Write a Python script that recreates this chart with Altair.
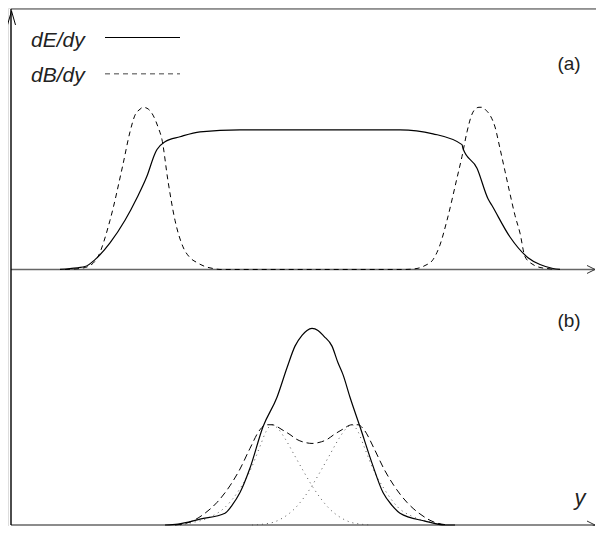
import altair as alt
import pandas as pd

# ---- panel (a): heights above the panel-(a) baseline ----
a_E_x = [60, 70, 85, 95, 110, 125, 137, 147, 155, 157, 165, 180, 200, 240, 300, 360, 400,
         433, 462, 463, 477, 488, 492, 510, 528, 540, 553, 560]
a_E_h = [0, 1, 3, 10, 27, 50, 73, 95, 118, 122, 130, 135, 140, 142, 142, 142, 142,
         138, 127, 123, 103, 72, 65, 33, 12, 5, 1, 0]

a_B_x = [65, 80, 90, 98, 110, 123, 130, 135, 140, 143, 147, 153, 158, 162, 168, 175, 183, 190,
         197, 205, 213, 220, 300, 405, 417, 425, 433, 440, 447, 457, 462, 467, 472, 475, 479,
         482, 486, 490, 495, 500, 505, 510, 515, 520, 525, 533, 540, 547, 555]
a_B_h = [0, 1, 4, 13, 50, 107, 140, 157, 163, 165, 164, 157, 145, 132, 90, 50, 23, 12,
         7, 3, 1, 0, 0, 0, 1, 4, 10, 25, 50, 93, 115, 140, 158, 163, 165,
         165, 162, 157, 145, 123, 100, 77, 55, 37, 13, 5, 2, 1, 0]

# ---- panel (b): heights above the bottom axis ----
b_E_x = [165, 178, 200, 225, 232, 240, 250, 263, 277, 287, 295, 302, 307, 312, 318, 324,
         332, 338, 343, 350, 360, 372, 383, 392, 400, 425, 445, 455]
b_E_h = [0, 1, 6, 12, 20, 33, 58, 100, 130, 160, 182, 193, 198, 200, 198, 192,
         182, 165, 153, 130, 100, 63, 33, 20, 12, 4, 0, 0]

b_B_x = [175, 190, 205, 217, 230, 240, 250, 260, 266, 272, 282, 290, 297, 305, 312, 319,
         327, 334, 342, 352, 358, 364, 374, 384, 394, 407, 419, 434, 449]
b_B_h = [0, 3, 12, 23, 40, 57, 78, 97, 102, 102, 97, 92, 87, 84, 83, 84,
         87, 92, 97, 102, 102, 97, 78, 57, 40, 23, 12, 3, 0]

b_L_x = [180, 190, 210, 225, 240, 250, 260, 266, 272, 278, 285, 295, 305, 312, 320, 330,
         340, 350, 360, 372]
b_L_h = [0, 2, 8, 18, 37, 55, 80, 95, 102, 98, 88, 70, 52, 40, 28, 16,
         8, 3, 1, 0]

b_R_x = [252, 264, 274, 284, 294, 304, 312, 319, 329, 339, 346, 352, 358, 364, 374, 384,
         398, 414, 434, 444]
b_R_h = [0, 1, 3, 8, 16, 28, 40, 52, 70, 88, 98, 102, 95, 80, 55, 37,
         18, 8, 2, 0]

legend_labels = ["dE/dy", "dB/dy"]
panel_labels = ["(a)", "(b)", "y"]

A_BASE = 260   # panel (a) baseline
TOP = 525      # top border

X = alt.Scale(domain=[8, 596])
Y = alt.Scale(domain=[-1, 526])


def frame(xs, hs, base):
    return pd.DataFrame({"x": xs, "v": [base + h for h in hs]})


def curve(df, dash=None, color="black", width=1.2):
    kw = dict(color=color, strokeWidth=width, interpolate="monotone", clip=True)
    if dash:
        kw["strokeDash"] = dash
    return alt.Chart(df).mark_line(**kw).encode(
        x=alt.X("x:Q", scale=X, axis=None),
        y=alt.Y("v:Q", scale=Y, axis=None),
    )


layers = []

# axes / frame
axes_df = pd.DataFrame({
    "x": [11, 11, 11, 11], "x2": [596, 595, 595, 11],
    "v": [TOP, A_BASE, 0, 0], "v2": [TOP, A_BASE, 0, TOP],
    "c": ["#444444", "#666666", "#666666", "#000000"],
    "w": [1.2, 1.6, 1.6, 1.4],
})
for i in range(len(axes_df)):
    r = axes_df.iloc[[i]]
    layers.append(
        alt.Chart(r).mark_rule(color=r["c"].iloc[0], strokeWidth=float(r["w"].iloc[0])).encode(
            x=alt.X("x:Q", scale=X, axis=None), x2="x2:Q",
            y=alt.Y("v:Q", scale=Y, axis=None), y2="v2:Q",
        )
    )

# arrow heads
right_arrows = pd.DataFrame({"x": [595, 595], "v": [A_BASE, 0]})
layers.append(
    alt.Chart(right_arrows).mark_point(
        shape="M-2,-1L0,0L-2,1", size=64, filled=False, color="#333333",
        strokeWidth=1, opacity=1,
    ).encode(x=alt.X("x:Q", scale=X, axis=None), y=alt.Y("v:Q", scale=Y, axis=None))
)
up_arrow = pd.DataFrame({"x": [11.5], "v": [523]})
layers.append(
    alt.Chart(up_arrow).mark_point(
        shape="M-1,3.5L0,0L1,3.5", size=64, filled=False, color="#000000",
        strokeWidth=1, opacity=1,
    ).encode(x=alt.X("x:Q", scale=X, axis=None), y=alt.Y("v:Q", scale=Y, axis=None))
)

# curves panel (a)
layers.append(curve(frame(a_B_x, a_B_h, A_BASE), dash=[5, 4], width=1.0))
layers.append(curve(frame(a_E_x, a_E_h, A_BASE)))

# curves panel (b)
layers.append(curve(frame(b_L_x, b_L_h, 0), dash=[1, 4], color="#555555", width=1.0))
layers.append(curve(frame(b_R_x, b_R_h, 0), dash=[1, 4], color="#555555", width=1.0))
layers.append(curve(frame(b_B_x, b_B_h, 0), dash=[7, 4], width=1.0))
layers.append(curve(frame(b_E_x, b_E_h, 0)))

# legend
leg_lines = pd.DataFrame({"x": [105, 105], "x2": [180, 180], "v": [496, 459]})
layers.append(
    alt.Chart(leg_lines.iloc[[0]]).mark_rule(color="black", strokeWidth=1.2).encode(
        x=alt.X("x:Q", scale=X, axis=None), x2="x2:Q",
        y=alt.Y("v:Q", scale=Y, axis=None),
    )
)
layers.append(
    alt.Chart(leg_lines.iloc[[1]]).mark_rule(color="#444444", strokeWidth=1.0, strokeDash=[5, 4]).encode(
        x=alt.X("x:Q", scale=X, axis=None), x2="x2:Q",
        y=alt.Y("v:Q", scale=Y, axis=None),
    )
)
leg_text = pd.DataFrame({"t": legend_labels, "x": [31, 31], "v": [492, 457]})
layers.append(
    alt.Chart(leg_text).mark_text(
        align="left", baseline="middle", font="Liberation Sans", fontStyle="italic",
        fontSize=21, color="#222222",
    ).encode(x=alt.X("x:Q", scale=X, axis=None), y=alt.Y("v:Q", scale=Y, axis=None), text="t:N")
)

# panel labels
pl = pd.DataFrame({"t": panel_labels[:2], "x": [569, 569], "v": [469, 208]})
layers.append(
    alt.Chart(pl).mark_text(
        align="center", baseline="middle", font="Liberation Sans", fontSize=19, color="#222222",
    ).encode(x=alt.X("x:Q", scale=X, axis=None), y=alt.Y("v:Q", scale=Y, axis=None), text="t:N")
)
yl = pd.DataFrame({"t": [panel_labels[2]], "x": [580], "v": [27]})
layers.append(
    alt.Chart(yl).mark_text(
        align="center", baseline="middle", font="Liberation Sans", fontStyle="italic",
        fontSize=22, color="#222222",
    ).encode(x=alt.X("x:Q", scale=X, axis=None), y=alt.Y("v:Q", scale=Y, axis=None), text="t:N")
)

chart = alt.layer(*layers).properties(
    width=588, height=518,
    autosize=alt.AutoSizeParams(type="none"),
    padding=0,
).configure_view(stroke=None).configure(background="white")

chart.save("out.html", embed_options={"renderer": "svg", "actions": False})
